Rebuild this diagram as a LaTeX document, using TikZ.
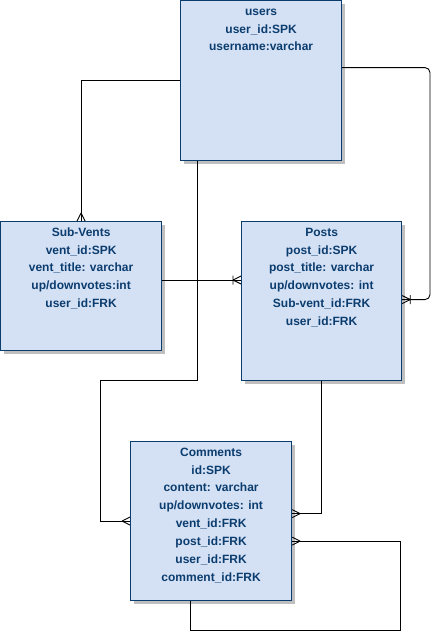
\documentclass[tikz,border=0pt]{standalone}
\usepackage{fontspec}
\setmainfont{Liberation Sans}
\usetikzlibrary{shadows,calc}
\definecolor{entfill}{HTML}{D4E1F5}
\definecolor{entline}{HTML}{0B3C6E}
\definecolor{enttext}{HTML}{0B3C6E}

\tikzset{
  entity/.style={rectangle, draw=entline, fill=entfill, line width=1.2pt,
    anchor=north west, inner sep=0pt,
    drop shadow={shadow xshift=3pt, shadow yshift=-3pt, opacity=1, fill=black!25}},
  fields/.style={anchor=north, inner sep=0pt, align=center, text=enttext,
    font=\fontsize{12}{17.9}\selectfont\bfseries, yshift=-2.4pt},
  rel/.style={draw=black, line width=0.9pt},
  pics/many/.style={code={\draw[rel] (-8,0) -- (0,4) (-8,0) -- (0,-4);}},
  pics/onemany/.style={code={\draw[rel] (-8,0) -- (0,4) (-8,0) -- (0,-4) (-8,-4.5) -- (-8,4.5);}},
}

\begin{document}
\begin{tikzpicture}[x=1pt,y=-1pt]
\useasboundingbox (0,0) rectangle (439,639);

% entities
\node[entity, minimum width=161pt, minimum height=160pt] (users) at (180,0) {};
\node[entity, minimum width=161pt, minimum height=129pt] (sv) at (0,221) {};
\node[entity, minimum width=160pt, minimum height=159pt] (posts) at (241,221) {};
\node[entity, minimum width=161pt, minimum height=159pt] (cm) at (130,441) {};

\node[fields] (users-f) at (users.north) {\strut users\\user\_id:SPK\\username:varchar};
\node[fields] (sv-f) at (sv.north) {\strut Sub-Vents\\vent\_id:SPK\\vent\_title: varchar\\up/downvotes:int\\user\_id:FRK};
\node[fields] (posts-f) at (posts.north) {\strut Posts\\post\_id:SPK\\post\_title: varchar\\up/downvotes: int\\Sub-vent\_id:FRK\\user\_id:FRK};
\node[fields] (cm-f) at (cm.north) {\strut Comments\\id:SPK\\content: varchar\\up/downvotes: int\\vent\_id:FRK\\post\_id:FRK\\user\_id:FRK\\comment\_id:FRK};

% connector end points
\coordinate (uR) at ([yshift=13pt]users.east);
\coordinate (rt) at (430,0);
\coordinate (pE) at ([yshift=1.5pt]posts.east);
\coordinate (y280) at (0,280);
\coordinate (svE) at (sv.east |- y280);
\coordinate (pW) at (posts.west |- y280);
\coordinate (uB) at ([xshift=-64pt]users.south);
\coordinate (j1) at (100,380);
\coordinate (cmR1) at ([yshift=7.5pt]cm.east);
\coordinate (cmR2) at ([yshift=-20pt]cm.east);
\coordinate (loopC) at (400,630);
\coordinate (cmB) at ([xshift=-20.5pt]cm.south);

% relationships
\draw[rel] (users.west) -| (sv.north);
\draw[rel, rounded corners=5pt] (uR) -- (uR -| rt) |- (pE);
\draw[rel] (svE) -- (pW);
\draw[rel] (uB) |- (j1) |- (cm.west);
\draw[rel] (posts.south) |- (cmR1);
\draw[rel] (cmR2) -| (loopC) -| (cmB);

% cardinality marks
\pic[rotate=-90] at (sv.north) {many};
\pic at (pW) {onemany};
\pic[rotate=180] at (pE) {onemany};
\pic at (cm.west) {many};
\pic[rotate=180] at (cmR1) {many};
\pic[rotate=180] at (cmR2) {many};
\end{tikzpicture}
\end{document}
